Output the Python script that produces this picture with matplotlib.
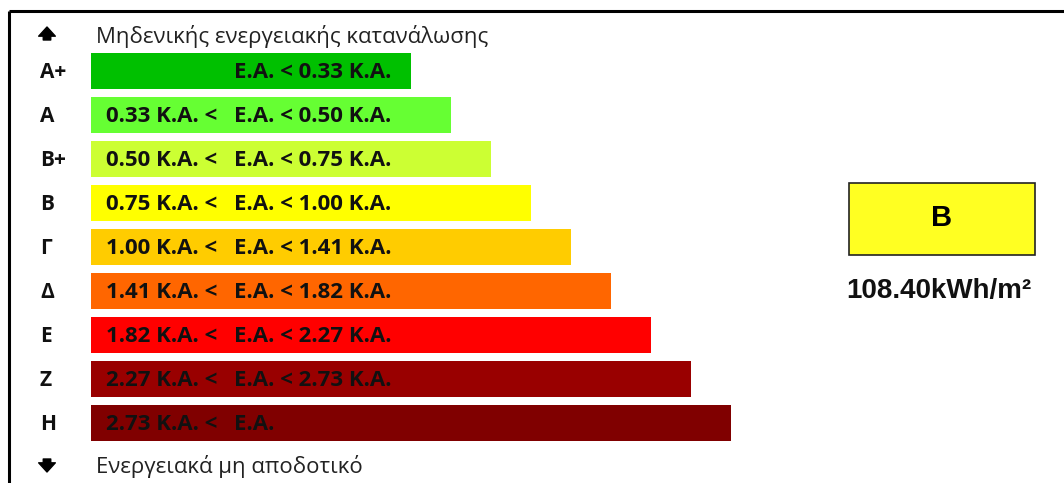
import matplotlib
matplotlib.use("Agg")
import matplotlib.pyplot as plt
from matplotlib.patches import Rectangle

# energy classes, top (best) to bottom (worst)
classes = ["A+", "A", "B+", "B", "Γ", "Δ", "E", "Z", "H"]
bar_len = [8, 9, 10, 11, 12, 13, 14, 15, 16]
lower = ["", "0.33 K.A. <", "0.50 K.A. <", "0.75 K.A. <", "1.00 K.A. <",
         "1.41 K.A. <", "1.82 K.A. <", "2.27 K.A. <", "2.73 K.A. <"]
upper = ["E.A. < 0.33 K.A.", "E.A. < 0.50 K.A.", "E.A. < 0.75 K.A.",
         "E.A. < 1.00 K.A.", "E.A. < 1.41 K.A.", "E.A. < 1.82 K.A.",
         "E.A. < 2.27 K.A.", "E.A. < 2.73 K.A.", "E.A."]
colors = ["#00C000", "#66FF33", "#CCFF33", "#FFFF00", "#FFCC00",
          "#FF6600", "#FF0000", "#990000", "#800000"]
top_text = "Μηδενικής ενεργειακής κατανάλωσης"
bottom_text = "Ενεργειακά μη αποδοτικό"
result_class = "B"
result_value = "108.40kWh/m²"

W, H = 1064, 483
UNIT = 40.0  # pixels per bar-length unit

fig = plt.figure(figsize=(W / 100, H / 100), dpi=100)
ax = fig.add_axes([0, 0, 1, 1])
ax.set_xlim(0, W / UNIT)
ax.set_ylim(H, 0)
ax.axis("off")

def px(x):
    return x / UNIT

rows = [71 + 44 * i for i in range(len(classes))]
ax.barh(rows, bar_len, left=px(91), height=36, color=colors,
        edgecolor="none")

body = ["Open Sans", "DejaVu Sans"]
for y, cls, lo, up in zip(rows, classes, lower, upper):
    ax.text(px(40), y + 2, cls, fontsize=15, fontweight="bold", family=body,
            ha="left", va="center", color="#111111")
    if lo:
        ax.text(px(106), y + 1, lo, fontsize=16, fontweight="bold",
                family=body, ha="left", va="center", color="#111111")
    ax.text(px(234), y + 1, up, fontsize=16, fontweight="bold", family=body,
            ha="left", va="center", color="#111111")

# header / footer with small block arrows
arrow = dict(arrowstyle="simple,head_length=0.55,head_width=1.0,tail_width=0.45",
             color="black", mutation_scale=12, shrinkA=0, shrinkB=0)
ax.annotate("", xy=(px(47), 27), xytext=(px(47), 40), arrowprops=arrow)
ax.text(px(96), 36, top_text, fontsize=16, family=body, ha="left",
        va="center", color="#222222")
ax.annotate("", xy=(px(47), 472), xytext=(px(47), 459), arrowprops=arrow)
ax.text(px(96), 466, bottom_text, fontsize=16, family=body, ha="left",
        va="center", color="#222222")

# frame (top and left)
ax.plot([px(9), px(W)], [10.5, 10.5], color="black", lw=2.2,
        solid_capstyle="butt")
ax.plot([px(9), px(9)], [10.5, H], color="black", lw=2.2,
        solid_capstyle="butt")

# result box
ax.add_patch(Rectangle((px(849), 183), px(186), 72, facecolor="#FFFF22",
                       edgecolor="#222222", lw=1.2))
ax.text(px(942), 218, result_class, fontsize=21, fontweight="bold",
        family="Liberation Sans", ha="center", va="center", color="black")
ax.text(px(939), 291, result_value, fontsize=20, fontweight="bold",
        family="Liberation Sans", ha="center", va="center", color="#111111")

fig.savefig("out.png", dpi=100)
